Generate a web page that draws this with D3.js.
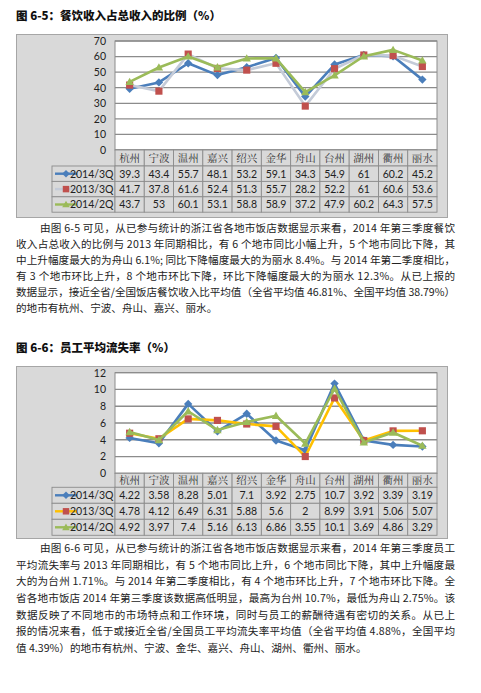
<!DOCTYPE html>
<html><head><meta charset="utf-8">
<script src="https://cdn.jsdelivr.net/npm/d3@7"></script>
<style>
html,body{margin:0;padding:0;background:#fff;}
svg{display:block;}
</style></head>
<body>
<svg id="c" width="481" height="693"></svg>
<script>
// ---------- data ----------
const cities = ["杭州","宁波","温州","嘉兴","绍兴","金华","舟山","台州","湖州","衢州","丽水"];
const seriesNames = ["2014/3Q","2013/3Q","2014/2Q"];

// Figure 6-5 : catering revenue share (%)
const ratio2014Q3 = [39.3,43.4,55.7,48.1,53.2,59.1,34.3,54.9,61,60.2,45.2];
const ratio2013Q3 = [41.7,37.8,61.6,52.4,51.3,55.7,28.2,52.2,61,60.6,53.6];
const ratio2014Q2 = [43.7,53,60.1,53.1,58.8,58.9,37.2,47.9,60.2,64.3,57.5];
const ratioTicks = [0,10,20,30,40,50,60,70];

// Figure 6-6 : staff turnover (%)
const turnover2014Q3 = [4.22,3.58,8.28,5.01,7.1,3.92,2.75,10.7,3.92,3.39,3.19];
const turnover2013Q3 = [4.78,4.12,6.49,6.31,5.88,5.6,2,8.99,3.91,5.06,5.07];
const turnover2014Q2 = [4.92,3.97,7.4,5.16,6.13,6.86,3.55,10.1,3.69,4.86,3.29];
const turnoverTicks = [0,2,4,6,8,10,12];

const title1 = "图 6-5：餐饮收入占总收入的比例（%）";
const title2 = "图 6-6：员工平均流失率（%）";
const para1 = [
 "由图 6-5 可见，从已参与统计的浙江省各地市饭店数据显示来看，2014 年第三季度餐饮",
 "收入占总收入的比例与 2013 年同期相比，有 6 个地市同比小幅上升，5 个地市同比下降，其",
 "中上升幅度最大的为舟山 6.1%; 同比下降幅度最大的为丽水 8.4%。与 2014 年第二季度相比，",
 "有 3 个地市环比上升，8 个地市环比下降，环比下降幅度最大的为丽水 12.3%。从已上报的",
 "数据显示，接近全省/全国饭店餐饮收入比平均值（全省平均值 46.81%、全国平均值 38.79%）",
 "的地市有杭州、宁波、舟山、嘉兴、丽水。"
];
const para2 = [
 "由图 6-6 可见，从已参与统计的浙江省各地市饭店数据显示来看，2014 年第三季度员工",
 "平均流失率与 2013 年同期相比，有 5 个地市同比上升，6 个地市同比下降，其中上升幅度最",
 "大的为台州 1.71%。与 2014 年第二季度相比，有 4 个地市环比上升，7 个地市环比下降。全",
 "省各地市饭店 2014 年第三季度该数据高低明显，最高为台州 10.7%，最低为舟山 2.75%。该",
 "数据反映了不同地市的市场特点和工作环境，同时与员工的薪酬待遇有密切的关系。从已上",
 "报的情况来看，低于或接近全省/全国员工平均流失率平均值（全省平均值 4.88%，全国平均",
 "值 4.39%）的地市有杭州、宁波、金华、嘉兴、舟山、湖州、衢州、丽水。"
];

// ---------- drawing ----------
const svg = d3.select("#c");
const FONT = "Lato, 'Noto Sans CJK SC', sans-serif";
const CJK = "'Noto Sans CJK SC', sans-serif";

function drawTitle(txt, y){
  svg.append("text").attr("x",16).attr("y",y)
    .attr("font-family",CJK).attr("font-weight",900).attr("font-size",11.5)
    .attr("fill","#111").text(txt);
}
function drawPara(lines, y0, lh){
  lines.forEach((t,i)=>{
    const indent = i===0 ? 24 : 0;
    const el = svg.append("text").attr("x",16+indent).attr("y",y0+i*lh)
      .attr("font-family",CJK).attr("font-size",10.6).attr("fill","#222").text(t);
    if(i<lines.length-1){
      el.attr("textLength",439-indent).attr("lengthAdjust","spacing");
    }
  });
}

function marker(g, type, x, y, color, s){
  if(type==="diamond"){
    g.append("path").attr("d",`M${x},${y-s}L${x+s},${y}L${x},${y+s}L${x-s},${y}Z`).attr("fill",color);
  } else if(type==="square"){
    g.append("rect").attr("x",x-s*0.85).attr("y",y-s*0.85).attr("width",s*1.7).attr("height",s*1.7).attr("fill",color);
  } else {
    g.append("path").attr("d",`M${x},${y-s}L${x+s},${y+s*0.75}L${x-s},${y+s*0.75}Z`).attr("fill",color);
  }
}

function drawChart(cfg){
  const {frameTop, frameBottom, plotTop, plotBottom, ticks, series, rowH} = cfg;
  const left=115, right=437;
  svg.append("rect").attr("x",16.5).attr("y",frameTop+0.5).attr("width",431).attr("height",frameBottom-frameTop)
    .attr("fill","#d9d9d9").attr("stroke","#a6a6a6").attr("stroke-width",1);
  const x = d3.scaleBand().domain(cities).range([left,right]);
  const y = d3.scaleLinear().domain([0,d3.max(ticks)]).range([plotBottom,plotTop]);
  svg.append("rect").attr("x",left).attr("y",plotTop).attr("width",right-left).attr("height",plotBottom-plotTop)
    .attr("fill","#fff").attr("stroke","#8c8c8c");
  // gridlines
  svg.append("g").selectAll("line").data(ticks).join("line")
    .attr("x1",left).attr("x2",right).attr("y1",d=>y(d)).attr("y2",d=>y(d))
    .attr("stroke","#8c8c8c").attr("stroke-width",1.3);
  // y axis labels
  const yAxis = d3.axisLeft(y).tickValues(ticks).tickSize(0).tickPadding(9);
  const ya = svg.append("g").attr("transform",`translate(${left},0)`).call(yAxis);
  ya.select(".domain").remove();
  ya.selectAll("text").attr("font-family",FONT).attr("font-size",10.5).attr("fill","#222");

  // lines
  const g = svg.append("g");
  series.forEach(s=>{
    const line = d3.line().x((d,i)=>x(cities[i])+x.bandwidth()/2).y(d=>y(d));
    g.append("path").attr("d",line(s.values)).attr("fill","none")
      .attr("stroke",s.lineColor).attr("stroke-width",2.6).attr("stroke-linejoin","round");
    s.values.forEach((v,i)=>marker(g,s.marker,x(cities[i])+x.bandwidth()/2,y(v),s.markerColor,4.2));
  });

  // data table
  const t = svg.append("g");
  const tableTop = plotBottom;
  const cellStroke = "#8c8c8c";
  // category row
  cities.forEach((c,i)=>{
    t.append("rect").attr("x",x(c)).attr("y",tableTop).attr("width",x.bandwidth()).attr("height",rowH[0])
      .attr("fill","#d9d9d9").attr("stroke",cellStroke).attr("stroke-width",0.9);
    t.append("text").attr("x",x(c)+x.bandwidth()/2).attr("y",tableTop+rowH[0]/2+4)
      .attr("text-anchor","middle").attr("font-family","'Noto Serif CJK SC','Noto Sans CJK SC',serif")
      .attr("font-size",10.5).attr("fill","#333").text(c);
  });
  let yy = tableTop+rowH[0];
  series.forEach((s,si)=>{
    const h = rowH[1];
    t.append("rect").attr("x",52).attr("y",yy).attr("width",left-52).attr("height",h)
      .attr("fill","#d9d9d9").attr("stroke",cellStroke).attr("stroke-width",0.9);
    t.append("line").attr("x1",55).attr("x2",77).attr("y1",yy+h/2).attr("y2",yy+h/2)
      .attr("stroke",s.lineColor).attr("stroke-width",2.4);
    marker(t,s.marker,66,yy+h/2,s.markerColor,3.8);
    t.append("text").attr("x",left-1.5).attr("y",yy+h/2+3.8).attr("text-anchor","end")
      .attr("font-family",FONT).attr("font-size",10.5).attr("fill","#222").text(s.name);
    s.values.forEach((v,i)=>{
      t.append("rect").attr("x",x(cities[i])).attr("y",yy).attr("width",x.bandwidth()).attr("height",h)
        .attr("fill","#d9d9d9").attr("stroke",cellStroke).attr("stroke-width",0.9);
      t.append("text").attr("x",x(cities[i])+x.bandwidth()/2).attr("y",yy+h/2+3.8)
        .attr("text-anchor","middle").attr("font-family",FONT).attr("font-size",10.5).attr("fill","#222").text(v);
    });
    yy += h;
  });
}

drawTitle(title1, 20);
drawChart({
  frameTop:34, frameBottom:217, plotTop:41, plotBottom:150, ticks:ratioTicks, rowH:[16,15.4],
  series:[
    {name:seriesNames[0], values:ratio2014Q3, lineColor:"#4a7ebb", markerColor:"#4a7ebb", marker:"diamond"},
    {name:seriesNames[1], values:ratio2013Q3, lineColor:"#c4cbd8", markerColor:"#c0504d", marker:"square"},
    {name:seriesNames[2], values:ratio2014Q2, lineColor:"#9bbb59", markerColor:"#9bbb59", marker:"triangle"}
  ]
});
drawPara(para1, 232, 16);

drawTitle(title2, 352);
drawChart({
  frameTop:366, frameBottom:538, plotTop:372.7, plotBottom:473.3, ticks:turnoverTicks, rowH:[14,16],
  series:[
    {name:seriesNames[0], values:turnover2014Q3, lineColor:"#4a7ebb", markerColor:"#4a7ebb", marker:"diamond"},
    {name:seriesNames[1], values:turnover2013Q3, lineColor:"#ffc000", markerColor:"#c0504d", marker:"square"},
    {name:seriesNames[2], values:turnover2014Q2, lineColor:"#9bbb59", markerColor:"#9bbb59", marker:"triangle"}
  ]
});
drawPara(para2, 552, 16.67);
</script>
</body></html>
